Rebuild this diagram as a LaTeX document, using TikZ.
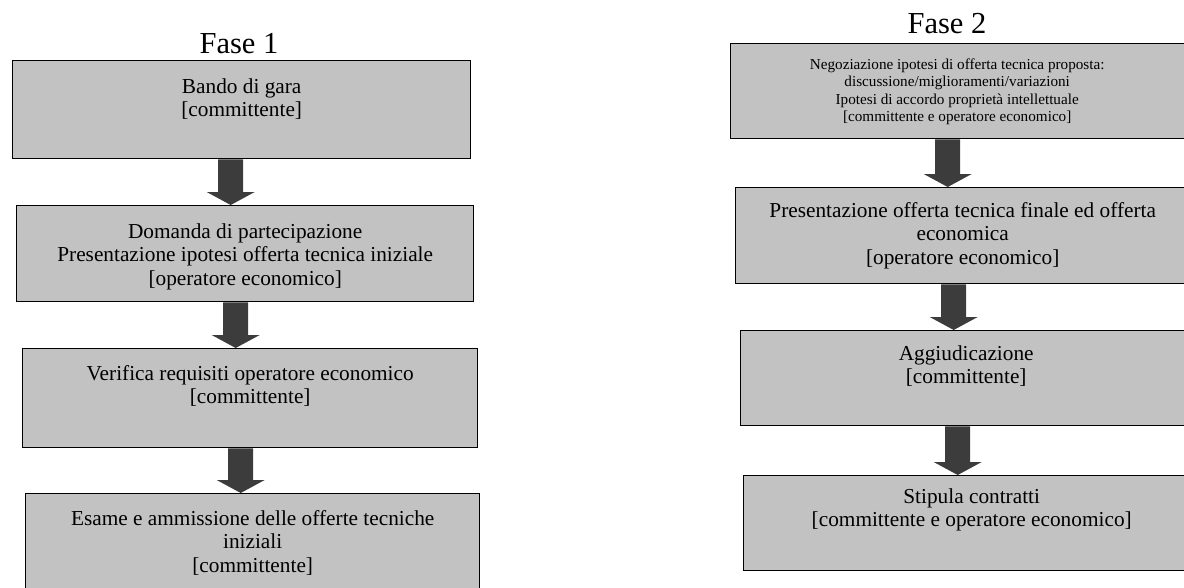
\documentclass[tikz,border=0pt]{standalone}
\usepackage{fontspec}
\setmainfont{Liberation Serif}
\usetikzlibrary{calc,backgrounds}
\definecolor{boxgray}{RGB}{194,194,194}
\definecolor{arrowgray}{RGB}{60,60,60}
\newcommand{\bigarrow}[2]{%
  \fill[arrowgray] ($(#1)+(-12.5,0)$) -- ($(#2)+(-12.5,-13)$) -- ($(#2)+(-24,-13)$) -- (#2)
    -- ($(#2)+(24,-13)$) -- ($(#2)+(12.5,-13)$) -- ($(#1)+(12.5,0)$) -- cycle;}
\newcommand{\bodytext}[1]{\parbox[t]{460pt}{\centering\fontsize{21.3}{23.5}\selectfont #1}}
\newcommand{\smalltext}[1]{\parbox[t]{440pt}{\centering\fontsize{15.2}{17.5}\selectfont #1}}
\begin{document}
\begin{tikzpicture}[x=1pt,y=-1pt,
  stepbox/.style={draw=black, line width=1.4pt, fill=boxgray, inner sep=0pt, anchor=north west},
  boxtext/.style={anchor=base, inner sep=0pt},
  phase/.style={anchor=base, inner sep=0pt, font=\fontsize{30.5}{34}\selectfont}]
\clip (0,0) rectangle (1184,587);

% Phase titles
\node[phase] (f1) at (239,53) {Fase 1};
\node[phase] (f2) at (947,33) {Fase 2};

% Left column
\node[stepbox, minimum width=458pt, minimum height=98pt] (b1) at (12,60) {};
\node[stepbox, minimum width=457pt, minimum height=96pt] (b2) at (16,205) {};
\node[stepbox, minimum width=455pt, minimum height=99pt] (b3) at (22,348) {};
\node[stepbox, minimum width=454pt, minimum height=110pt] (b4) at (25,493) {};

\node[boxtext] (t1) at ($(b1.north)+(0,33)$) {\bodytext{Bando di gara\\{[committente]}}};
\node[boxtext] (t2) at ($(b2.north)+(0,33)$) {\bodytext{Domanda di partecipazione\\Presentazione ipotesi offerta tecnica iniziale\\{[operatore economico]}}};
\node[boxtext] (t3) at ($(b3.north)+(0,32)$) {\bodytext{Verifica requisiti operatore economico\\{[committente]}}};
\node[boxtext] (t4) at ($(b4.north)+(0,32)$) {\bodytext{Esame e ammissione delle offerte tecniche\\iniziali\\{[committente]}}};

% Right column
\node[stepbox, minimum width=465pt, minimum height=95pt] (b5) at (730,43) {};
\node[stepbox, minimum width=460pt, minimum height=96pt] (b6) at (735,187) {};
\node[stepbox, minimum width=455pt, minimum height=95pt] (b7) at (740,330) {};
\node[stepbox, minimum width=452pt, minimum height=95pt] (b8) at (743,475) {};

\node[boxtext] (t5) at ($(b5.north)+(-6,26)$) {\smalltext{Negoziazione ipotesi di offerta tecnica proposta:\\discussione/miglioramenti/variazioni\\Ipotesi di accordo proprietà intellettuale\\{[committente e operatore economico]}}};
\node[boxtext] (t6) at ($(b6.north)+(-3,30)$) {\bodytext{Presentazione offerta tecnica finale ed offerta\\economica\\{[operatore economico]}}};
\node[boxtext] (t7) at ($(b7.north)+(-2,30)$) {\bodytext{Aggiudicazione\\{[committente]}}};
\node[boxtext] (t8) at ($(b8.north)+(2,28)$) {\bodytext{Stipula contratti\\{[committente e operatore economico]}}};

% Arrows
\coordinate (a1) at ($(b1.south)+(-11,0)$);  \coordinate (e1) at (a1 |- b2.north);
\coordinate (a2) at ($(b2.south)+(-9.5,0)$); \coordinate (e2) at (a2 |- b3.north);
\coordinate (a3) at ($(b3.south)+(-9.5,0)$); \coordinate (e3) at (a3 |- b4.north);
\coordinate (a5) at ($(b5.south)+(-15.5,0)$); \coordinate (e5) at (a5 |- b6.north);
\coordinate (a6) at ($(b6.south)+(-12,0)$);  \coordinate (e6) at (a6 |- b7.north);
\coordinate (a7) at ($(b7.south)+(-10.5,0)$); \coordinate (e7) at (a7 |- b8.north);
\begin{scope}[on background layer]
\bigarrow{a1}{e1}
\bigarrow{a2}{e2}
\bigarrow{a3}{e3}
\bigarrow{a5}{e5}
\bigarrow{a6}{e6}
\bigarrow{a7}{e7}
\end{scope}
\end{tikzpicture}
\end{document}
